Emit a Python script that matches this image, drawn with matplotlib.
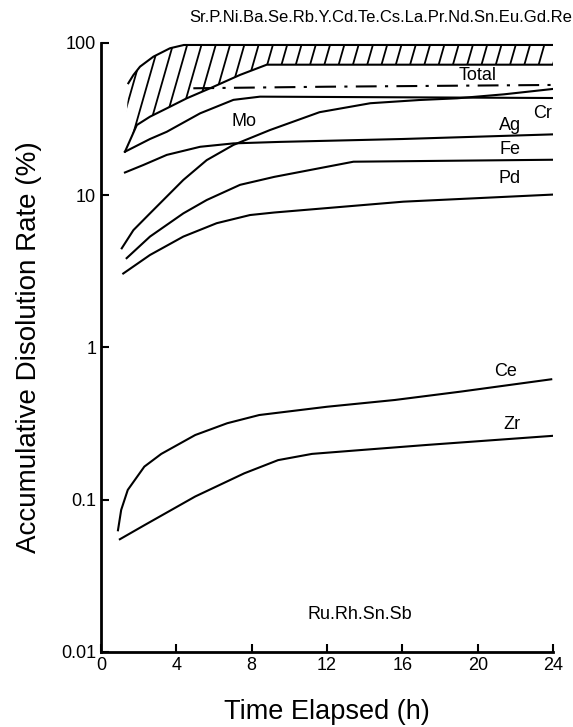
import numpy as np
import matplotlib
matplotlib.use('Agg')
import matplotlib.pyplot as plt
from matplotlib import hatch as mhatch
from matplotlib.path import Path

plt.rcParams['font.family'] = ['Liberation Sans', 'DejaVu Sans']
plt.rcParams['hatch.linewidth'] = 1.3

# hatched band (Sr, P, Ni, ... Re): upper and lower edges
t_top = [1.45, 1.72, 2.07, 2.78, 3.66, 4.4, 24]
v_top = [54.4, 61.6, 69.9, 81.3, 92.3, 97, 97]
t_bot = [1.27, 1.9, 2.6, 3.49, 4.55, 5.79, 7.38, 8.8, 24]
v_bot = [19.3, 28.9, 32.8, 37.2, 43.3, 50.4, 61.7, 72, 72]

# Total (dash-dot)
t_total = [4.9, 12, 24]
v_total = [50.4, 51.6, 53]

# curve that flattens near 44 %
t_a = [1.27, 2.6, 3.49, 5.26, 7.03, 8.44, 24]
v_a = [19.3, 23.4, 26.1, 34.5, 42.3, 44.4, 43.5]

# steep curve crossing the others, ends ~50 %
t_b = [1.1, 1.72, 2.6, 4.37, 5.61, 7.03, 8.97, 11.6, 14.3, 16.9, 18.9, 21.4, 24]
v_b = [4.48, 5.9, 7.6, 12.6, 17.0, 21.4, 26.8, 35.1, 40.2, 42.2, 43.3, 46, 49.9]

# curve ending ~25 %
t_c = [1.27, 2.25, 3.49, 5.26, 7.03, 9.5, 16.0, 24]
v_c = [14.1, 15.8, 18.4, 20.8, 21.9, 22.4, 23.4, 25.1]

# curve ending ~17 %
t_d = [1.36, 2.6, 4.37, 5.61, 7.38, 9.2, 13.4, 24]
v_d = [3.86, 5.35, 7.6, 9.3, 11.7, 13.2, 16.6, 17.1]

# curve ending ~10 %
t_e = [1.18, 2.6, 4.37, 6.14, 7.91, 9.2, 16.05, 24]
v_e = [3.06, 4.05, 5.35, 6.55, 7.41, 7.7, 9.07, 10.1]

# Ce
t_ce = [0.9, 1.07, 1.42, 2.3, 3.2, 5.0, 6.7, 8.4, 12.0, 15.6, 19.1, 23.9]
v_ce = [0.063, 0.0857, 0.116, 0.165, 0.2, 0.266, 0.318, 0.36, 0.408, 0.452, 0.513, 0.618]

# Zr
t_zr = [1.0, 2.3, 5.0, 7.6, 9.4, 11.2, 13.8, 17.3, 24.2]
v_zr = [0.055, 0.068, 0.105, 0.149, 0.182, 0.2, 0.212, 0.229, 0.264]

# text labels: (text, t, value)
labels = [('Total', 20.0, 61.6), ('Mo', 7.57, 30.5), ('Ag', 21.7, 28.9),
          ('Cr', 23.45, 34.2), ('Fe', 21.7, 20.1), ('Pd', 21.7, 12.8),
          ('Ce', 21.5, 0.695), ('Zr', 21.8, 0.31), ('Ru.Rh.Sn.Sb', 13.75, 0.0175)]
top_note = 'Sr.P.Ni.Ba.Se.Rb.Y.Cd.Te.Cs.La.Pr.Nd.Sn.Eu.Gd.Re'

x_ticks = [0, 4, 8, 12, 16, 20, 24]
y_ticks = [0.01, 0.1, 1, 10, 100]
y_ticklabels = ['0.01', '0.1', '1', '10', '100']


# steeper '/' hatch, like the hand-drawn one in the original
class SteepHatch(mhatch.HatchPatternBase):
    def __init__(self, hatch, density):
        self.num_lines = 7 * hatch.count('/')
        self.shift = 2
        self.num_vertices = 2 * (self.num_lines + self.shift) if self.num_lines else 0

    def set_vertices_and_codes(self, vertices, codes):
        n = self.num_lines
        xs = np.arange(-self.shift, n) / n
        vertices[0::2, 0] = xs
        vertices[0::2, 1] = 0
        vertices[1::2, 0] = xs + self.shift / n
        vertices[1::2, 1] = 1
        codes[0::2] = Path.MOVETO
        codes[1::2] = Path.LINETO


mhatch._hatch_types[mhatch._hatch_types.index(mhatch.NorthEastHatch)] = SteepHatch

fig = plt.figure(figsize=(5.73, 7.27), dpi=100)
ax = fig.add_axes([0.1763, 0.1032, 0.789, 0.8377])

lw = 1.5
ax.fill(t_top + t_bot[::-1], v_top + v_bot[::-1], facecolor='none',
        edgecolor='black', hatch='/', linewidth=0)
ax.plot(t_top, v_top, color='black', lw=lw)
ax.plot(t_bot, v_bot, color='black', lw=lw)
ax.plot(t_total, v_total, color='black', lw=lw, dashes=(10, 4, 1.5, 4))
for t, v in [(t_a, v_a), (t_b, v_b), (t_c, v_c), (t_d, v_d), (t_e, v_e),
             (t_ce, v_ce), (t_zr, v_zr)]:
    ax.plot(t, v, color='black', lw=lw)

for txt, t, v in labels:
    ax.text(t, v, txt, ha='center', va='center', fontsize=13)
ax.text(14.87, 148, top_note, ha='center', va='center', fontsize=12,
        clip_on=False)

ax.set_yscale('log')
ax.set_xlim(0, 24)
ax.set_ylim(0.01, 100)
ax.set_xticks(x_ticks)
ax.set_yticks(y_ticks)
ax.set_yticklabels(y_ticklabels)
ax.minorticks_off()
ax.tick_params(direction='in', length=6, width=1.5, labelsize=13)
ax.spines['top'].set_visible(False)
ax.spines['right'].set_visible(False)
ax.spines['left'].set_linewidth(2)
ax.spines['bottom'].set_linewidth(2)

ax.set_xlabel('Time Elapsed (h)', fontsize=19.5, labelpad=18)
ax.set_ylabel('Accumulative Disolution Rate (%)', fontsize=20, labelpad=14)

plt.savefig('out.png', dpi=100)
